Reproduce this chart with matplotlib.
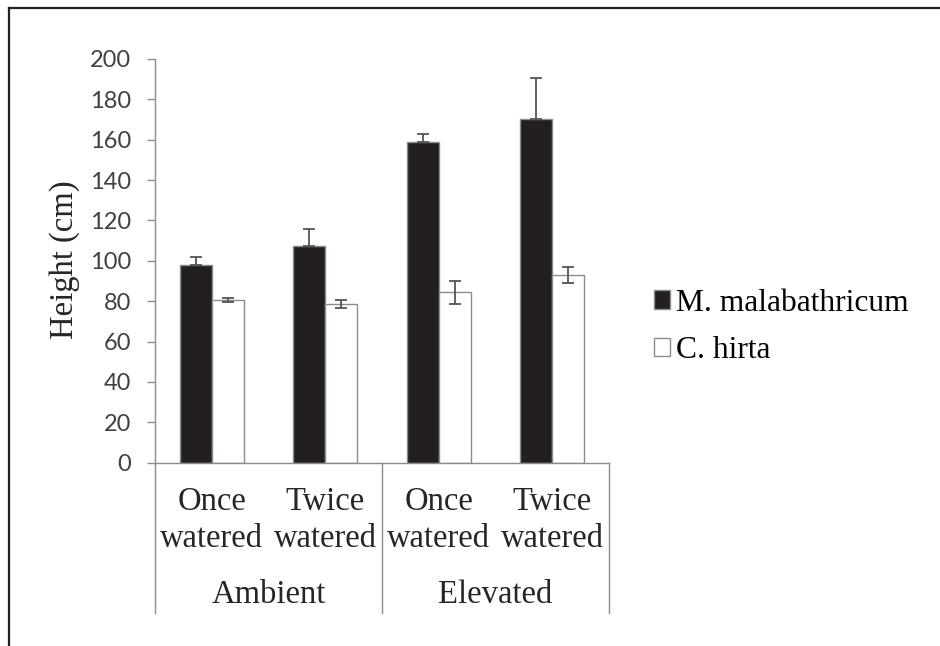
import matplotlib
matplotlib.use("Agg")
import matplotlib.pyplot as plt
from matplotlib.lines import Line2D
from matplotlib.patches import Patch
import numpy as np

# values
treatments = ["Once\nwatered", "Twice\nwatered", "Once\nwatered", "Twice\nwatered"]
co2_groups = ["Ambient", "Elevated"]
malabathricum = [98.0, 107.5, 158.8, 170.2]
malabathricum_err = [3.8, 8.3, 4.2, 20.3]
hirta = [80.6, 78.6, 84.4, 92.9]
hirta_err = [1.0, 2.0, 5.6, 4.1]
yticks = [0, 20, 40, 60, 80, 100, 120, 140, 160, 180, 200]

serif = "Liberation Serif"
sans = "Lato"
grey = "#8c8c8c"
fs = 23.5

fig = plt.figure(figsize=(9.4, 6.46), dpi=100)
ax = fig.add_axes([155 / 940, 1 - 462.7 / 646, 454 / 940, 403.7 / 646])

x = np.arange(len(treatments)) + 0.5
w = 0.28
ax.bar(x - w / 2, malabathricum, w, color="#231f20", edgecolor=grey, linewidth=1.0, zorder=2)
ax.bar(x + w / 2, hirta, w, color="white", edgecolor=grey, linewidth=1.0, zorder=2)
ax.errorbar(x - w / 2, malabathricum, yerr=[np.zeros(4), malabathricum_err], fmt="none",
            ecolor="#555555", elinewidth=1.3, capsize=4.3, capthick=1.3, zorder=3)
ax.errorbar(x + w / 2, hirta, yerr=hirta_err, fmt="none",
            ecolor="#555555", elinewidth=1.3, capsize=4.3, capthick=1.3, zorder=3)

ax.set_xlim(0, 4)
ax.set_ylim(0, 200)
ax.set_yticks(yticks)
ax.set_xticks([])
for s in ["top", "right"]:
    ax.spines[s].set_visible(False)
for s in ["left", "bottom"]:
    ax.spines[s].set_color(grey)
    ax.spines[s].set_linewidth(1.0)
ax.tick_params(axis="y", length=6, width=1, color=grey, pad=11,
               labelsize=17, labelcolor="#404040")
for lab in ax.get_yticklabels():
    lab.set_fontfamily(sans)

# two-level category axis
tr = ax.get_xaxis_transform()
for xi, t in zip(x, treatments):
    top, bottom = t.split("\n")
    ax.text(xi, -0.1176, top, transform=tr, ha="center", va="baseline",
            fontsize=fs, family=serif, color="#262626")
    ax.text(xi, -0.209, bottom, transform=tr, ha="center", va="baseline",
            fontsize=fs, family=serif, color="#262626")
for gi, g in enumerate(co2_groups):
    ax.text(1 + 2 * gi, -0.3475, g, transform=tr, ha="center", va="baseline",
            fontsize=fs, family=serif, color="#262626")
for xs in [0, 2, 4]:
    ax.add_line(Line2D([xs, xs], [0, -0.372], transform=tr, color=grey,
                       linewidth=1.0, clip_on=False))

fig.text(65 / 940, 1 - 260 / 646, "Height (cm)", rotation=90, ha="center", va="center",
         fontsize=fs, family=serif, color="#262626")

handles = [Patch(facecolor="#231f20", edgecolor=grey, label="M. malabathricum"),
           Patch(facecolor="white", edgecolor=grey, label="C. hirta")]
fig.legend(handles=handles, loc="center left", bbox_to_anchor=(641 / 940, 1 - 327 / 646),
           frameon=False, prop={"family": serif, "size": 22.7}, handlelength=0.52,
           handleheight=0.52, handletextpad=0.2, labelspacing=0.6, borderaxespad=0)

# outer frame
fig.add_artist(Line2D([9 / 940, 1], [1 - 8 / 646, 1 - 8 / 646], transform=fig.transFigure,
                      color="#222222", linewidth=1.6))
fig.add_artist(Line2D([9 / 940, 9 / 940], [1 - 8 / 646, 0], transform=fig.transFigure,
                      color="#222222", linewidth=1.6))

fig.savefig("out.png", dpi=100)
